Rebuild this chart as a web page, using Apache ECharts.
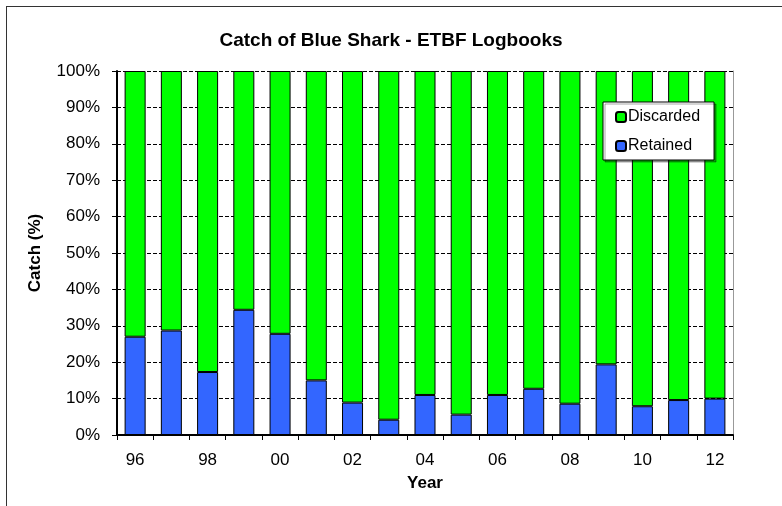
<!DOCTYPE html>
<html>
<head>
<meta charset="utf-8">
<script src="https://cdn.jsdelivr.net/npm/echarts@6/dist/echarts.min.js"></script>
<style>
  html,body{margin:0;padding:0;background:#fff;}
  #frame{position:absolute;left:6px;top:6px;width:776px;height:500px;border-top:1.5px solid #333;border-left:1.5px solid #333;}
  #main{position:absolute;left:0;top:0;width:782px;height:506px;}
</style>
</head>
<body>
<div id="frame"></div>
<div id="main"></div>
<script>
/*年份 - 类目轴*/
var years = ['96','97','98','99','00','01','02','03','04','05','06','07','08','09','10','11','12'];
/*保留比例 (%)*/
var retained = [27.0, 28.7, 17.3, 34.4, 27.8, 15.0, 8.9, 4.2, 11.0, 5.6, 11.0, 12.7, 8.6, 19.4, 7.9, 9.6, 10.0];
/*丢弃比例 (%)*/
var discarded = [73.0, 71.3, 82.7, 65.6, 72.2, 85.0, 91.1, 95.8, 89.0, 94.4, 89.0, 87.3, 91.4, 80.6, 92.1, 90.4, 90.0];

var font = 'Arial, "Liberation Sans", sans-serif';

var myChart = echarts.init(document.getElementById('main'));
myChart.setOption({
    animation:false,
    title:{
        text:'Catch of Blue Shark - ETBF Logbooks',
        left:'center', top:26,
        textStyle:{fontFamily:font,fontSize:19,fontWeight:'bold',color:'#000'}
    },
    grid:{left:117,right:49,top:71,bottom:71},
    legend:{
        orient:'vertical',
        left:603, top:102,
        padding:[7,14,6,12],
        itemWidth:10, itemHeight:10,
        itemGap:13,
        backgroundColor:'#fff',
        borderColor:'#000', borderWidth:1,
        shadowColor:'rgba(0,0,0,0.35)', shadowOffsetX:2, shadowOffsetY:2, shadowBlur:0,
        textStyle:{fontFamily:font,fontSize:16,color:'#000',padding:[0,0,0,-3]},
        data:['Discarded','Retained']
    },
    xAxis:{
        type:'category',
        data:years,
        name:'Year',
        nameLocation:'middle',
        nameGap:40,
        nameTextStyle:{fontFamily:font,fontSize:17,fontWeight:'bold',color:'#000'},
        axisLine:{lineStyle:{color:'#000',width:2}},
        axisTick:{show:true,interval:0,length:5,lineStyle:{color:'#000',width:1}},
        axisLabel:{interval:1,margin:17,fontFamily:font,fontSize:17,color:'#000'}
    },
    yAxis:[{
        type:'value',
        min:0, max:100, interval:10,
        name:'Catch (%)',
        nameLocation:'middle',
        nameGap:73,
        nameTextStyle:{fontFamily:font,fontSize:17,fontWeight:'bold',color:'#000'},
        axisLine:{show:true,lineStyle:{color:'#000',width:2}},
        axisTick:{show:true,length:5,lineStyle:{color:'#000'}},
        axisLabel:{formatter:'{value}%',margin:17,fontFamily:font,fontSize:17,color:'#000'},
        splitLine:{show:true,lineStyle:{color:'#000',type:[4,2],width:1}}
    },{
        type:'value',
        min:0, max:100, interval:10,
        position:'right',
        axisLine:{show:true,lineStyle:{color:'#999',width:1}},
        axisTick:{show:false},
        axisLabel:{show:false},
        splitLine:{show:false}
    }],
    series:[{
        name:'Retained',
        type:'bar',
        stack:'catch',
        barWidth:'58%',
        itemStyle:{color:'#3366FF',borderColor:'#000',borderWidth:1},
        data:retained
    },{
        name:'Discarded',
        type:'bar',
        stack:'catch',
        barWidth:'58%',
        itemStyle:{color:'#00FF00',borderColor:'#000',borderWidth:1},
        data:discarded
    }]
});
</script>
</body>
</html>
